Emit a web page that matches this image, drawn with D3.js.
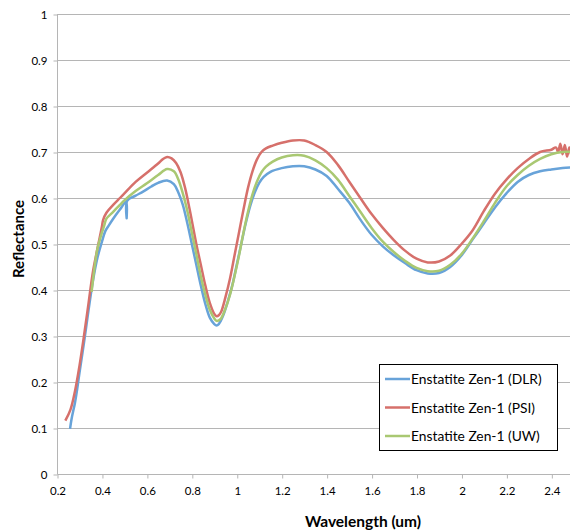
<!DOCTYPE html>
<html>
<head>
<meta charset="utf-8">
<script src="https://cdn.jsdelivr.net/npm/d3@7"></script>
<style>
  body { margin: 0; background: #fff; }
  text { font-family: Lato, "Open Sans", sans-serif; fill: #000; }
</style>
</head>
<body>
<svg></svg>
<script>
const seriesNames = ["Enstatite Zen-1 (DLR)", "Enstatite Zen-1 (PSI)", "Enstatite Zen-1 (UW)"];
const seriesColors = ["#68a3d9", "#d6706b", "#a9c872"];

const xTicks = [0.2, 0.4, 0.6, 0.8, 1, 1.2, 1.4, 1.6, 1.8, 2, 2.2, 2.4];
const yTicks = [0, 0.1, 0.2, 0.3, 0.4, 0.5, 0.6, 0.7, 0.8, 0.9, 1];

// [wavelength, reflectance]
const dlr = [
  [0.258, 0.098], [0.265, 0.12], [0.28, 0.155], [0.29, 0.185], [0.30, 0.22], [0.32, 0.285],
  [0.34, 0.355], [0.36, 0.42], [0.38, 0.47], [0.40, 0.505], [0.415, 0.528], [0.43, 0.54],
  [0.45, 0.555], [0.48, 0.575], [0.508, 0.592], [0.51, 0.556], [0.512, 0.594], [0.55, 0.605],
  [0.583, 0.614], [0.62, 0.625], [0.65, 0.633], [0.69, 0.638], [0.72, 0.630], [0.74, 0.612],
  [0.76, 0.585], [0.78, 0.545], [0.80, 0.50], [0.82, 0.455], [0.84, 0.41], [0.86, 0.37],
  [0.88, 0.34], [0.90, 0.326], [0.91, 0.323], [0.92, 0.326], [0.94, 0.345], [0.96, 0.375],
  [0.98, 0.41], [1.00, 0.455], [1.02, 0.50], [1.04, 0.545], [1.06, 0.583], [1.08, 0.612],
  [1.10, 0.633], [1.12, 0.646], [1.15, 0.657], [1.20, 0.665], [1.25, 0.669], [1.30, 0.669],
  [1.35, 0.662], [1.40, 0.648], [1.45, 0.62], [1.50, 0.59], [1.55, 0.553], [1.60, 0.52],
  [1.65, 0.495], [1.70, 0.475], [1.75, 0.458], [1.80, 0.443], [1.85, 0.436], [1.90, 0.437],
  [1.95, 0.45], [2.00, 0.475], [2.05, 0.51], [2.10, 0.545], [2.15, 0.58], [2.20, 0.61],
  [2.25, 0.635], [2.30, 0.65], [2.35, 0.658], [2.40, 0.662], [2.45, 0.665], [2.50, 0.667]
];

const psi = [
  [0.237, 0.116], [0.26, 0.14], [0.28, 0.18], [0.30, 0.235], [0.32, 0.30], [0.34, 0.37],
  [0.36, 0.44], [0.38, 0.49], [0.40, 0.538], [0.405, 0.552], [0.42, 0.568], [0.45, 0.585],
  [0.48, 0.60], [0.50, 0.61], [0.55, 0.635], [0.60, 0.655], [0.65, 0.675], [0.67, 0.684],
  [0.69, 0.689], [0.71, 0.686], [0.73, 0.676], [0.75, 0.656], [0.77, 0.622], [0.79, 0.576],
  [0.82, 0.50], [0.84, 0.455], [0.86, 0.41], [0.88, 0.372], [0.90, 0.348], [0.91, 0.343],
  [0.92, 0.345], [0.93, 0.352], [0.95, 0.385], [0.97, 0.425], [0.99, 0.475], [1.01, 0.525],
  [1.03, 0.575], [1.05, 0.622], [1.07, 0.658], [1.09, 0.684], [1.11, 0.70], [1.13, 0.708],
  [1.16, 0.714], [1.20, 0.72], [1.25, 0.725], [1.30, 0.725], [1.35, 0.715], [1.40, 0.70],
  [1.45, 0.672], [1.50, 0.636], [1.55, 0.60], [1.60, 0.565], [1.65, 0.535], [1.70, 0.508],
  [1.75, 0.485], [1.80, 0.468], [1.85, 0.46], [1.90, 0.462], [1.95, 0.475], [2.00, 0.50],
  [2.05, 0.53], [2.10, 0.572], [2.15, 0.61], [2.20, 0.64], [2.25, 0.665], [2.30, 0.685],
  [2.35, 0.70], [2.40, 0.705], [2.42, 0.71], [2.43, 0.70], [2.44, 0.718], [2.45, 0.695],
  [2.46, 0.715], [2.47, 0.69], [2.48, 0.71], [2.49, 0.692], [2.50, 0.70]
];

const uw = [
  [0.354, 0.396], [0.37, 0.46], [0.38, 0.49], [0.40, 0.525], [0.41, 0.54], [0.42, 0.555],
  [0.45, 0.57], [0.48, 0.585], [0.50, 0.595], [0.55, 0.615], [0.60, 0.632], [0.65, 0.65],
  [0.69, 0.663], [0.72, 0.658], [0.74, 0.64], [0.76, 0.61], [0.78, 0.572], [0.80, 0.525],
  [0.82, 0.478], [0.84, 0.43], [0.86, 0.39], [0.88, 0.357], [0.90, 0.338], [0.91, 0.333],
  [0.92, 0.334], [0.93, 0.338], [0.95, 0.36], [0.97, 0.39], [0.99, 0.43], [1.01, 0.475],
  [1.03, 0.525], [1.05, 0.57], [1.07, 0.608], [1.09, 0.636], [1.11, 0.656], [1.13, 0.668],
  [1.16, 0.679], [1.20, 0.688], [1.25, 0.693], [1.30, 0.692], [1.35, 0.682], [1.40, 0.665],
  [1.45, 0.64], [1.50, 0.605], [1.55, 0.57], [1.60, 0.535], [1.65, 0.505], [1.70, 0.482],
  [1.75, 0.463], [1.80, 0.448], [1.85, 0.441], [1.90, 0.442], [1.95, 0.455], [2.00, 0.478],
  [2.05, 0.512], [2.10, 0.55], [2.15, 0.59], [2.20, 0.625], [2.25, 0.65], [2.30, 0.67],
  [2.35, 0.685], [2.40, 0.695], [2.45, 0.70], [2.50, 0.70]
];

const series = [dlr, psi, uw];

const width = 570, height = 531;
const plotLeft = 57, plotTop = 14, plotBottom = 474;

const svg = d3.select("svg").attr("width", width).attr("height", height);

const x = d3.scaleLinear().domain([0.2, 2.5]).range([plotLeft, plotLeft + 2.3 * 224.7]);
const y = d3.scaleLinear().domain([0, 1]).range([plotBottom, plotTop]);

// gridlines
svg.append("g")
  .selectAll("line")
  .data(yTicks.slice(1))
  .enter()
  .append("line")
  .attr("x1", plotLeft)
  .attr("x2", width)
  .attr("y1", d => Math.round(y(d)) + 0.5)
  .attr("y2", d => Math.round(y(d)) + 0.5)
  .attr("stroke", "#b5b5b5");

// y axis
const yAxis = svg.append("g")
  .attr("transform", `translate(${plotLeft + 0.5},0.5)`)
  .call(d3.axisLeft(y).tickValues(yTicks).tickSize(4).tickPadding(6).tickFormat(d => d));
yAxis.selectAll("line, path").attr("stroke", "#b5b5b5");
yAxis.select("path").attr("d", `M0,${plotTop}V${plotBottom}`);
yAxis.selectAll("text").style("font-size", "11.5px").style("font-family", "Lato, 'Open Sans', sans-serif");

// x axis
const xAxis = svg.append("g")
  .attr("transform", `translate(0.5,${plotBottom + 0.5})`)
  .call(d3.axisBottom(x).tickValues(xTicks).tickSize(4).tickPadding(8).tickFormat(d => d));
xAxis.selectAll("line, path").attr("stroke", "#b5b5b5");
xAxis.select("path").attr("d", `M${plotLeft},0H${width}`);
xAxis.selectAll("text").style("font-size", "11.5px").style("font-family", "Lato, 'Open Sans', sans-serif");

// curves
const line = d3.line()
  .x(d => x(d[0]))
  .y(d => y(d[1]))
  .curve(d3.curveCatmullRom.alpha(0.5));

svg.append("g")
  .selectAll("path")
  .data(series)
  .enter()
  .append("path")
  .attr("d", line)
  .attr("fill", "none")
  .attr("stroke", (d, i) => seriesColors[i])
  .attr("stroke-width", 2.5)
  .attr("stroke-linejoin", "round");

// axis titles
svg.append("text")
  .attr("x", 363)
  .attr("y", 527)
  .attr("text-anchor", "middle")
  .style("font-weight", "bold")
  .style("font-size", "15.5px")
  .text("Wavelength (um)");

svg.append("text")
  .attr("transform", "translate(24,239) rotate(-90)")
  .attr("text-anchor", "middle")
  .style("font-weight", "bold")
  .style("font-size", "15px")
  .text("Reflectance");

// legend
const legend = svg.append("g");
legend.append("rect")
  .attr("x", 379.5)
  .attr("y", 364.5)
  .attr("width", 178)
  .attr("height", 86)
  .attr("fill", "#fff")
  .attr("stroke", "#000");

const legendRows = legend.selectAll("g")
  .data(seriesNames)
  .enter()
  .append("g")
  .attr("transform", (d, i) => `translate(0,${379 + i * 28.5})`);

legendRows.append("line")
  .attr("x1", 385)
  .attr("x2", 410)
  .attr("stroke", (d, i) => seriesColors[i])
  .attr("stroke-width", 2.5);

legendRows.append("text")
  .attr("x", 411)
  .attr("y", 5)
  .style("font-size", "13.8px")
  .text(d => d);
</script>
</body>
</html>
